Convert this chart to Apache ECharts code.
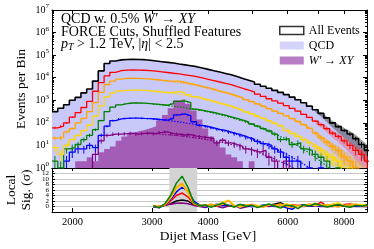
<!DOCTYPE html>
<html><head><meta charset="utf-8">
<script src="https://cdn.jsdelivr.net/npm/echarts@6/dist/echarts.min.js"></script>
<style>html,body{margin:0;padding:0;background:#fff}#c{width:374px;height:249px}</style>
</head><body><div id="c"></div>
<script>
// ---- data ----
const binEdges = [1800,1854,1910,1967,2026,2087,2149,2214,2280,2349,2419,2492,2566,2643,2723,2804,2888,2975,3064,3156,3251,3349,3449,3552,3659,3769,3882,3998,4118,4242,4369,4500,4635,4774,4917,5065,5217,5373,5534,5700,5871,6048,6229,6416,6608,6807,7011,7221,7438,7661,7891,8128,8371,8622,8881,9148];
const allEvents = [316,447,631,1000,1350,2140,3160,7080,20000,42700,55000,61700,64600,66000,64600,63000,59000,55000,51300,47900,44700,40700,37200,33900,30900,26900,23400,20400,17800,15500,13500,11200,9330,7760,6460,5130,4170,3390,2750,2240,1780,1380,1050,776,550,380,263,166,100,68,46,32,20,11,6];
const signal = [0,0,0,0,2,2,3,2,5,7,9,16,25,35,42,48,58,71,126,224,447,1000,1120,708,355,141,56,25,13,8,4,3,2,0,2,0,0,0,0,0,0,0,0,0,0,0,0,0,0,0,0,0,0,0,0];
const cutRed = [60,71,100,178,282,479,891,2510,6030,12000,17400,20400,21900,22400,21900,21400,20400,19500,18200,17000,15800,14800,13500,12300,11200,9770,8510,7410,6460,5620,4900,4070,3390,2820,2340,1860,1480,1170,933,741,575,437,331,240,174,120,83,56,35,25,16,10,6,4,2];
const cutOrange = [21,22,40,56,100,158,316,794,2240,5010,7080,8710,9330,9550,9330,9120,8710,8320,7760,7240,7000,7000,6300,5400,4790,4170,3630,3090,2630,2240,1910,1580,1320,1070,871,692,550,427,331,263,204,155,115,83,59,35,22,14,9,6,3,2,1,0,0];
const cutYellow = [8,4,10,18,28,45,79,200,562,1410,2140,2630,2750,2820,2820,2750,2630,2510,2340,2190,2290,2400,2190,1780,1450,1260,1070,912,776,661,550,457,380,309,251,200,158,123,95,74,45,33,25,18,13,9,6,4,3,2,0,1,0,0,0];
const cutGreen = [2,1,7,8,11,18,28,50,126,316,501,631,708,759,759,741,708,676,646,603,708,891,933,794,407,363,324,288,251,219,186,158,132,110,89,71,56,44,32,18,20,11,13,7,6,4,3,2,0,1,0,0,0,0,0];
const cutBlue = [0,0,2,5,7,7,10,8,28,71,126,151,158,162,162,158,155,148,138,132,158,224,251,209,112,78,69,60,52,46,39,33,28,23,19,15,12,10,7,5,3,2,2,0,1,0,1,0,0,0,0,0,0,0,0];
const cutPurple = [0,0,0,0,0,0,0,4,16,28,32,32,33,35,32,34,35,33,38,40,33,32,29,30,26,24,22,20,13,17,13,11,9,7,6,5,6,3,2,0,2,0,0,0,0,0,0,0,0,0,0,0,0,0,0];
// background fits (dotted), bins 17..54
const fitFirstBin = 17;
const fitOrange = [8320,7760,7240,6760,6310,5750,5250,4790,4170,3630,3090,2630,2240,1910,1580,1320,1070,871,692,550,427,331,263,204,155,115,83,59,38,24,15,9,5.5,3.2,1.8,1,0.5,0.3];
const fitYellow = [2510,2340,2190,2040,1910,1740,1580,1410,1260,1070,912,776,661,550,457,380,309,251,200,158,123,95,72,55,41,30,21,15,10,6.6,4.2,2.6,1.6,1.0,0.6,0.35,0.2,0.1];
const fitGreen = [676,646,603,562,525,490,447,407,363,324,288,251,219,186,158,132,110,89,71,56,44,33,25,19,13,9.5,6.6,4.5,3.0,1.9,1.2,0.7,0.4,0.2,0.1,0.1,0.1,0.1];
const fitBlue = [148,138,132,123,115,105,95,87,78,69,60,52,46,39,33,28,23,19,15,12,9.5,7.4,5.6,4.2,3.0,2.1,1.5,1.0,0.6,0.4,0.2,0.1,0.1,0.1,0.1,0.1,0.1,0.1];
const fitPurple = [33,32,30,29,27.5,26,24,22,20.4,18.6,17,15,13.5,11.7,10.2,8.7,7.4,6.2,5.0,4.1,3.2,2.5,1.9,1.5,1.1,0.8,0.6,0.4,0.3,0.2,0.1,0.1,0.1,0.1,0.1,0.1,0.1,0.1];
// fit uncertainty bands at high mass, bins 45..54: [low, high]
const bandFirstBin = 45;
const bandBlackLow  = [300,190,110,60,36,22,13,7,3,1.5];
const bandBlackHigh = [400,290,190,120,85,60,44,30,18,11];
const bandRedLow    = [95,60,38,22,14,8,4.5,2.3,1.2,0.5];
const bandRedHigh   = [140,100,70,46,34,23,15,10,7,5];
const bandOrangeLow = [26,15,9,5,3,1.5,0.7,0.3,0.1,0.05];
const bandOrangeHigh= [44,29,20,13,9.5,6,3.8,2.4,1.5,1];
const bandYellowLow = [6,3.5,2,1.2,0.6,0.3,0.1,0.05,0.05,0.05];
const bandYellowHigh= [12,8.5,6,4,2.7,1.8,1.1,0.7,0.4,0.2];
// local significance, bins 17..54
const sigFirstBin = 17;
const sigBlack  = [0.0,-0.3,0.4,1.0,2.0,2.4,2.0,0.6,0.3,0.1,0.4,0.2,0.5,0.3,0.0,0.2,0.4,0.1,0.3,0.2,0.5,0.9,1.4,0.3,0.1,0.2,0.4,0.3,0.1,0.5,0.2,0.3,0.4,0.1,0.2,0.3,0.1,0.0];
const sigRed    = [0.2,0.1,0.5,2.0,4.0,4.9,3.5,1.0,0.4,0.1,0.6,0.2,0.8,0.3,0.0,0.5,0.3,0.6,0.2,0.4,0.1,0.5,0.3,0.2,0.6,0.4,0.5,0.8,0.3,1.6,0.2,0.6,0.4,0.7,0.9,0.5,0.6,0.3];
const sigOrange = [0.1,-0.2,0.8,3.5,7.0,8.5,5.5,1.0,0.5,0.2,0.9,0.3,0.8,2.2,-0.1,0.4,0.2,0.8,0.1,-0.3,0.5,0.3,0.9,0.2,-0.4,0.6,0.1,0.5,1.2,0.3,0.7,0.2,-0.2,0.4,0.6,0.9,0.3,0.2];
const sigYellow = [0.4,0.0,0.6,3.0,6.5,8.0,5.0,1.2,0.2,0.7,0.1,0.6,1.6,2.3,0.5,-0.2,0.6,0.3,0.5,0.0,0.7,0.4,0.2,0.9,0.5,0.1,0.4,0.8,0.3,0.6,0.2,0.9,1.3,0.4,0.1,0.5,0.8,0.4];
const sigGreen  = [0.3,-0.4,1.0,4.0,8.5,11.0,7.0,1.5,0.2,0.6,-0.3,0.5,1.3,0.4,-0.2,0.8,0.1,0.5,-0.4,0.3,0.9,0.2,-0.6,0.5,0.3,-0.8,0.6,0.2,1.0,0.4,-0.2,0.3,0.7,0.1,-0.3,0.4,0.2,0.5];
const sigBlue   = [0.0,-0.5,0.9,2.5,5.3,7.0,5.5,2.0,0.6,-0.2,0.4,0.8,0.3,0.5,0.1,0.6,0.4,-0.1,0.2,0.5,0.3,0.0,0.3,-0.5,-1.0,0.3,0.6,0.2,0.4,0.1,0.5,0.3,0.2,0.4,0.0,0.3,0.2,0.1];
const sigPurple = [-0.2,0.0,0.5,0.8,1.2,1.3,1.0,0.4,0.0,-0.4,0.3,0.1,-0.5,0.2,0.4,-0.6,-0.2,0.3,0.1,0.2,0.0,0.3,0.1,0.0,0.2,0.1,0.0,0.2,0.1,0.0,0.1,0.0,0.2,0.1,0.0,0.1,0.0,0.0];
const signalRegion = [3280, 3780];
const xRange = [1800, 9000];
const xTickValues = [2000,3000,4000,5000,6000,7000,8000,9000];
const xLabelValues = [2000,3000,4000,6000,8000];

// ---- helpers ----
const FONT = 'Liberation Serif';
const LMIN = Math.log10(xRange[0]), LMAX = Math.log10(xRange[1]);
const FLOOR = 0.05;
function stepData(vals){
  const d = [];
  for (let i = 0; i < vals.length; i++) d.push([binEdges[i], vals[i] > 0 ? vals[i] : FLOOR]);
  const last = vals[vals.length-1];
  d.push([binEdges[vals.length], last > 0 ? last : FLOOR]);
  return d;
}
const binCenters = []; for (let i=0;i<binEdges.length-1;i++) binCenters.push(Math.sqrt(binEdges[i]*binEdges[i+1]));
function errSeries(vals, color, z){
  const data = [];
  vals.forEach((v,i)=>{ if (v > 0 && v < 3000){ const e = Math.sqrt(v); data.push([binCenters[i], Math.max(v-e, FLOOR), v+e]); } });
  return {type:'custom', xAxisIndex:0, yAxisIndex:0, data, silent:true, z,
    encode:{x:0, y:[1,2]},
    renderItem:(params, api)=>{
      const p1 = api.coord([api.value(0), api.value(1)]);
      const p2 = api.coord([api.value(0), api.value(2)]);
      const cs = params.coordSys; const top = cs.y, bot = cs.y + cs.height;
      const c = y => Math.min(Math.max(y, top), bot);
      return {type:'line', shape:{x1:p1[0], y1:c(p1[1]), x2:p2[0], y2:c(p2[1])}, style:{stroke:color, lineWidth:1}};
    }};
}
function stepSeries(name, vals, color, width, z){
  return {type:'line', name, xAxisIndex:0, yAxisIndex:0, step:'end', data:stepData(vals), showSymbol:false, symbol:'none',
    lineStyle:{color, width}, itemStyle:{color}, z, silent:true, clip:true};
}
function areaSeries(name, vals, color, z){
  return {type:'line', name, xAxisIndex:0, yAxisIndex:0, step:'end', data:stepData(vals), showSymbol:false, symbol:'none',
    lineStyle:{width:0, color}, itemStyle:{color}, areaStyle:{color, opacity:1, origin:'start'}, z, silent:true, clip:true};
}
function fitSeries(vals, color){
  return {type:'line', xAxisIndex:0, yAxisIndex:0, data: vals.map((v,k)=>[binCenters[fitFirstBin+k], v]), showSymbol:false, symbol:'none',
    lineStyle:{color, width:1.2, type:[1.5,1.5]}, z:3, silent:true, clip:true};
}
// band polygon drawn once, from the low/high arrays through the axes
function bandSeries(low, high, color){
  const data = low.map((v,k)=>[binCenters[bandFirstBin+k], v, high[k]]);
  return {type:'custom', xAxisIndex:0, yAxisIndex:0, data, silent:true, z:2, encode:{x:0, y:[1,2]},
    renderItem:(params, api)=>{
      if (params.dataIndex !== 0) return;
      const cs = params.coordSys; const top = cs.y, bot = cs.y + cs.height, right = cs.x + cs.width;
      const clampY = y => Math.min(Math.max(y, top), bot);
      const clampX = x => Math.min(x, right);
      const upper = data.map(d => { const p = api.coord([d[0], d[2]]); return [clampX(p[0]), clampY(p[1])]; });
      const lower = data.map(d => { const p = api.coord([d[0], d[1]]); return [clampX(p[0]), clampY(p[1])]; }).reverse();
      return {type:'polygon', shape:{points: upper.concat(lower)}, style:{fill:color}};
    }};
}
function sigSeries(vals, color, z){
  return {type:'line', xAxisIndex:3, yAxisIndex:5, data: vals.map((s,k)=>[binCenters[sigFirstBin+k], s]),
    showSymbol:false, symbol:'none', lineStyle:{color, width:1.5}, z, silent:true, clip:true};
}
const minorMain = []; for (let n=0;n<7;n++) for (let k=2;k<=9;k++) minorMain.push(n+Math.log10(k));
const xTickLogs = xTickValues.map(v=>Math.log10(v));
const xLabLogs = xLabelValues.map(v=>Math.log10(v));

const C = {black:'#000000', red:'#ff0000', orange:'#ffa500', yellow:'#ffd700', green:'#008000', blue:'#0000ff', purple:'#800080', qcd:'#c9c9f9', sig:'#a45db6'};
const axLine = {show:true, onZero:false, lineStyle:{color:'#000', width:1}};
const noLine = {show:false, onZero:false};

const option = {
  animation:false,
  backgroundColor:'#fff',
  grid:[{left:52, top:10, width:315, height:158}, {left:52, top:168, width:315, height:44}],
  xAxis:[
    {type:'log', gridIndex:0, min:xRange[0], max:xRange[1], show:false},
    {type:'value', gridIndex:0, position:'bottom', min:LMIN, max:LMAX, axisLine:axLine, axisTick:{show:true, inside:true, length:4, customValues:xTickLogs, lineStyle:{color:'#000'}}, axisLabel:{show:false}, splitLine:{show:false}},
    {type:'value', gridIndex:0, position:'top', min:LMIN, max:LMAX, axisLine:axLine, axisTick:{show:true, inside:true, length:4, customValues:xTickLogs, lineStyle:{color:'#000'}}, axisLabel:{show:false}, splitLine:{show:false}},
    {type:'log', gridIndex:1, min:xRange[0], max:xRange[1], show:false},
    {type:'value', gridIndex:1, position:'bottom', min:LMIN, max:LMAX, axisLine:axLine, axisTick:{show:true, inside:true, length:4, customValues:xTickLogs, lineStyle:{color:'#000'}},
      axisLabel:{show:true, customValues:xLabLogs, formatter:v=>String(Math.round(Math.pow(10,v))), fontFamily:FONT, fontSize:10.5, color:'#000', margin:5}, splitLine:{show:false}},
    {type:'value', gridIndex:1, position:'top', min:LMIN, max:LMAX, axisLine:axLine, axisTick:{show:true, inside:true, length:3, customValues:xTickLogs, lineStyle:{color:'#000'}}, axisLabel:{show:false}, splitLine:{show:false}}
  ],
  yAxis:[
    {type:'log', gridIndex:0, min:1, max:1e7, show:false},
    {type:'value', gridIndex:0, position:'left', min:0, max:7, interval:1, axisLine:axLine, axisTick:{show:true, inside:true, length:4, lineStyle:{color:'#000'}},
      axisLabel:{formatter:v=>'{b|10}{s|'+v+'}', margin:3, rich:{b:{fontFamily:FONT, fontSize:10, lineHeight:14, color:'#000'}, s:{fontFamily:FONT, fontSize:7, lineHeight:7, verticalAlign:'top', color:'#000'}}}, splitLine:{show:false}},
    {type:'value', gridIndex:0, position:'left', min:0, max:7, axisLine:noLine, axisTick:{show:true, inside:true, length:2, customValues:minorMain, lineStyle:{color:'#000'}}, axisLabel:{show:false}, splitLine:{show:false}},
    {type:'value', gridIndex:0, position:'right', min:0, max:7, interval:1, axisLine:axLine, axisTick:{show:true, inside:true, length:4, lineStyle:{color:'#000'}}, axisLabel:{show:false}, splitLine:{show:false}},
    {type:'value', gridIndex:0, position:'right', min:0, max:7, axisLine:noLine, axisTick:{show:true, inside:true, length:2, customValues:minorMain, lineStyle:{color:'#000'}}, axisLabel:{show:false}, splitLine:{show:false}},
    {type:'value', gridIndex:1, position:'left', min:-2, max:14, interval:2, axisLine:axLine,
      axisTick:{show:true, inside:true, length:3, lineStyle:{color:'#000'}}, minorTick:{show:true, splitNumber:2, length:2, lineStyle:{color:'#000'}},
      axisLabel:{formatter:v=> v===14 ? '' : String(v).replace('-','\u2212'), fontFamily:FONT, fontSize:7, color:'#000', margin:3},
      splitLine:{show:true, lineStyle:{color:'#c8c8c8', width:1}}},
    {type:'value', gridIndex:1, position:'right', min:-2, max:14, interval:2, axisLine:axLine, axisTick:{show:true, inside:true, length:3, lineStyle:{color:'#000'}}, minorTick:{show:true, splitNumber:2, length:2, lineStyle:{color:'#000'}}, axisLabel:{show:false}, splitLine:{show:false}}
  ],
  legend:{
    orient:'vertical', left:274, top:19, itemWidth:24, itemHeight:8, itemGap:2,
    data:[
      {name:'All Events', icon:'rect', itemStyle:{color:'#ffffff', borderColor:'#000000', borderWidth:1.5}},
      {name:'QCD', icon:'rect', itemStyle:{color:C.qcd, borderWidth:0}},
      {name:'W\u2032 \u2192 XY', icon:'rect', itemStyle:{color:C.sig, borderWidth:0}}
    ],
    formatter: n => n.indexOf('XY')>=0 ? '{i|W\u2032} {n|\u2192} {i|XY}' : '{n|'+n+'}',
    textStyle:{fontFamily:FONT, fontSize:12, color:'#000', lineHeight:13, padding:[0,0,0,0],
      rich:{i:{fontFamily:FONT, fontSize:12, fontStyle:'italic', color:'#000', lineHeight:13}, n:{fontFamily:FONT, fontSize:12, color:'#000', lineHeight:13}}}
  },
  series:[
    {type:'scatter', name:'All Events', xAxisIndex:0, yAxisIndex:0, data:[], itemStyle:{color:'#fff', borderColor:'#000', borderWidth:1.5}},
    {type:'scatter', name:'QCD', xAxisIndex:0, yAxisIndex:0, data:[], itemStyle:{color:C.qcd}},
    {type:'scatter', name:'W\u2032 \u2192 XY', xAxisIndex:0, yAxisIndex:0, data:[], itemStyle:{color:C.sig}},
    areaSeries('qcdFill', allEvents, C.qcd, 1),
    areaSeries('signalFill', signal, C.sig, 2),
    bandSeries(bandBlackLow, bandBlackHigh, 'rgba(70,70,70,0.5)'),
    bandSeries(bandRedLow, bandRedHigh, 'rgba(255,60,60,0.35)'),
    bandSeries(bandOrangeLow, bandOrangeHigh, 'rgba(255,165,0,0.4)'),
    bandSeries(bandYellowLow, bandYellowHigh, 'rgba(255,215,0,0.4)'),
    fitSeries(fitPurple, C.purple), fitSeries(fitBlue, C.blue), fitSeries(fitGreen, C.green), fitSeries(fitYellow, C.yellow), fitSeries(fitOrange, C.orange),
    stepSeries('purpleCut', cutPurple, C.purple, 1.3, 3), errSeries(cutPurple, C.purple, 3),
    stepSeries('blueCut', cutBlue, C.blue, 1.3, 3), errSeries(cutBlue, C.blue, 3),
    stepSeries('greenCut', cutGreen, C.green, 1.3, 3), errSeries(cutGreen, C.green, 3),
    stepSeries('yellowCut', cutYellow, C.yellow, 1.3, 3), errSeries(cutYellow, C.yellow, 3),
    stepSeries('orangeCut', cutOrange, C.orange, 1.3, 3), errSeries(cutOrange, C.orange, 3),
    stepSeries('redCut', cutRed, C.red, 1.3, 3), errSeries(cutRed, C.red, 3),
    stepSeries('allLine', allEvents, C.black, 1.6, 4), errSeries(allEvents, C.black, 4),
    {type:'line', xAxisIndex:3, yAxisIndex:5, data:[[2000,100]], showSymbol:false, lineStyle:{width:0}, z:1, silent:true,
      markArea:{silent:true, itemStyle:{color:'#d3d3d3'}, data:[[{xAxis:signalRegion[0]},{xAxis:signalRegion[1]}]]}},
    sigSeries(sigBlack, C.black, 3), sigSeries(sigPurple, C.purple, 3), sigSeries(sigRed, C.red, 3),
    sigSeries(sigBlue, C.blue, 3), sigSeries(sigYellow, C.yellow, 3), sigSeries(sigOrange, C.orange, 3), sigSeries(sigGreen, C.green, 3)
  ],
  graphic:[
    {type:'text', x:61, y:19.5, silent:true, style:{text:'{n|QCD w. 0.5% }{i|W\u2032}{n| \u2192 }{i|XY}', fill:'#000', verticalAlign:'middle',
      rich:{n:{fontFamily:FONT, fontSize:14}, i:{fontFamily:FONT, fontSize:14, fontStyle:'italic'}}}},
    {type:'text', x:61, y:32, silent:true, style:{text:'FORCE Cuts, Shuffled Features', fill:'#000', verticalAlign:'middle', fontFamily:FONT, fontSize:14}},
    {type:'text', x:61, y:44.5, silent:true, style:{text:'{i|p}{sub|T}{n| > 1.2 TeV, |}{i|\u03b7}{n|| < 2.5}', fill:'#000', verticalAlign:'middle',
      rich:{n:{fontFamily:FONT, fontSize:14, lineHeight:16}, i:{fontFamily:FONT, fontSize:14, fontStyle:'italic', lineHeight:16}, sub:{fontFamily:FONT, fontSize:10, fontStyle:'italic', lineHeight:10, verticalAlign:'bottom'}}}},
    {type:'text', x:21, y:89, rotation:Math.PI/2, silent:true, style:{text:'Events per Bin', fill:'#000', fontFamily:FONT, fontSize:13.5, align:'center', verticalAlign:'middle'}},
    {type:'text', x:19, y:190, rotation:Math.PI/2, silent:true, style:{text:'Local\nSig. (\u03c3)', fill:'#000', fontFamily:FONT, fontSize:13.5, lineHeight:15, align:'center', verticalAlign:'middle'}},
    {type:'text', x:208, y:236, silent:true, style:{text:'Dijet Mass [GeV]', fill:'#000', fontFamily:FONT, fontSize:13.5, align:'center', verticalAlign:'middle'}}
  ]
};
const chart = echarts.init(document.getElementById('c'), null, {renderer:'canvas'});
chart.setOption(option);
</script></body></html>
